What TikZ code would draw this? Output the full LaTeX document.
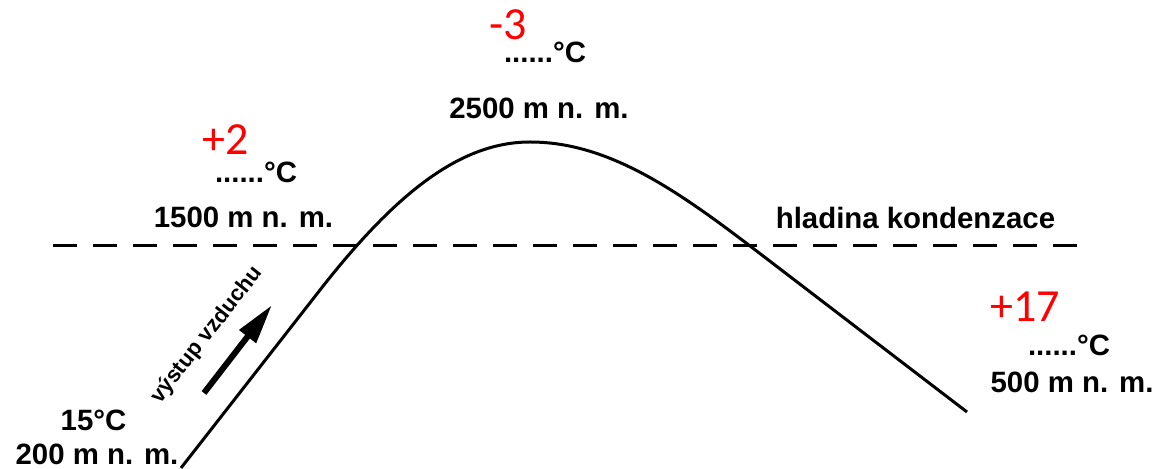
\documentclass[tikz,border=0pt]{standalone}
\usepackage{fontspec}
\setmainfont{Liberation Sans}
\newfontfamily\redfont{Carlito}
\usetikzlibrary{arrows.meta}
\begin{document}
\begin{tikzpicture}[x=0.5pt,y=-0.5pt,
  lbl/.style={font=\fontsize{14.7}{17}\selectfont\bfseries, anchor=base, inner sep=0pt},
  rednum/.style={font=\fontsize{23}{27}\redfont, text={rgb,255:red,255;green,0;blue,0}, anchor=base, inner sep=0pt},
  profile/.style={line width=1.5pt, line join=round},
  levelline/.style={line width=1.5pt, dash pattern=on 12pt off 8pt},
  airarrow/.style={line width=3pt, -{Triangle[length=20pt,width=10pt]}}]
\useasboundingbox (0,0) rectangle (1155,469);
% condensation level
\coordinate (d1) at (53,246);
\coordinate (d2) at (1077,246);
\draw[levelline] (d1) -- (d2);
% mountain profile
\coordinate (p0) at (181,468);
\coordinate (p1) at (320,290);
\coordinate (top) at (530,142);
\coordinate (p2) at (760,253.6);
\coordinate (p3) at (967,412);
\draw[profile] (p0) -- (p1) .. controls (395,194) and (460,142) .. (top)
  .. controls (610,142) and (680,192.4) .. (p2) -- (p3);
% air rising arrow
\coordinate (a1) at (204,393);
\coordinate (a2) at (272,305);
\draw[airarrow] (a1) -- (a2);
\node[font=\fontsize{11}{13}\selectfont\bfseries, rotate=52, inner sep=0pt] (vy) at (207,335) {výstup vzduchu};
% labels
\node[rednum] (r3) at (508,40) {-3};
\node[lbl] (t3) at (545,63) {......°C};
\node[lbl] (h3) at (539,119) {2500 m n. m.};
\node[rednum] (r2) at (226,155) {+2};
\node[lbl] (t2) at (256,183) {......°C};
\node[lbl] (h2) at (243.5,228) {1500 m n. m.};
\node[lbl] (hk) at (915.5,229) {hladina kondenzace};
\node[rednum] (r4) at (1025,322) {+17};
\node[lbl] (t4) at (1069,356) {......°C};
\node[lbl] (h4) at (1072,393) {500 m n. m.};
\node[lbl] (t1) at (93.5,430) {15°C};
\node[lbl] (h1) at (97,465) {200 m n. m.};
\end{tikzpicture}
\end{document}
